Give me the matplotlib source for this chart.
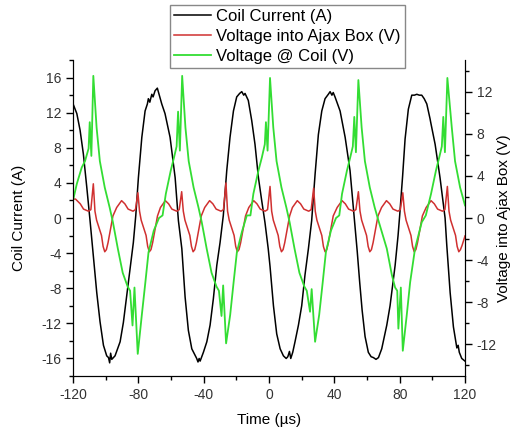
import matplotlib
matplotlib.use("Agg")
import matplotlib.pyplot as plt
from matplotlib.ticker import MultipleLocator

plt.rcParams['font.family'] = ['Liberation Sans', 'DejaVu Sans']
plt.rcParams['axes.unicode_minus'] = False

# Coil current (A), left axis
t_cur = [-120, -117.7, -115.7, -113.7, -111.6, -109.6, -107.5, -105.5, -103.5, -101.4,
         -99.4, -98.3, -97.6, -97.0, -96.3, -94.3, -91.2, -89.2, -86.1, -83.1,
         -81.6, -80.0, -77.9, -75.9, -74.5, -73.9, -73.0, -71.8, -71.0, -69.8,
         -68.4, -67.5, -65.7, -63.7, -60.6, -57.5, -55.5, -53.4, -51.4, -49.4,
         -47.3, -44.3, -43.5, -42.8, -42.2, -40.2, -38.1, -36.1, -34.1, -32.0,
         -30.0, -28.0, -25.9, -23.9, -21.8, -19.8, -18.0, -16.7, -15.5, -14.7,
         -12.7, -10.6, -8.6, -6.5, -4.5, -2.5, -0.5, 0.6, 2.7, 4.7,
         6.8, 8.8, 10.5, 11.5, 12.5, 13.3, 14.5, 15.9, 18.0, 20.0,
         22.0, 24.1, 26.1, 28.2, 30.2, 32.3, 34.3, 36.3, 37.4, 38.5,
         39.3, 40.4, 43.5, 46.6, 49.6, 51.0, 52.2, 54.0, 55.5, 57.0,
         58.8, 60.8, 62.5, 63.9, 65.5, 67.0, 69.0, 72.1, 74.1, 77.2,
         79.0, 80.0, 81.8, 83.3, 85.3, 87.4, 89.0, 90.5, 92.0, 93.5,
         95.0, 96.6, 98.6, 99.0, 101.7, 104.7, 107.8, 108.8, 110.9, 112.9,
         115.0, 115.8, 116.5, 118.0, 120.0]
current = [13.0, 11.9, 10.0, 7.3, 3.5, -0.3, -4.5, -8.5, -11.8, -14.5,
           -15.7, -15.9, -16.5, -15.4, -16.1, -15.7, -14.1, -11.9, -7.3, -2.8,
           0.3, 4.6, 9.2, 12.2, 13.0, 13.6, 13.2, 14.1, 13.8, 14.5,
           14.8, 14.2, 13.0, 11.9, 9.2, 4.6, -0.3, -3.5, -9.0, -12.8,
           -14.9, -16.0, -16.4, -16.0, -16.3, -15.3, -14.1, -12.2, -9.2, -5.4,
           -2.8, 0.3, 5.4, 9.2, 12.2, 13.8, 14.2, 14.4, 14.0, 14.2,
           13.4, 11.1, 8.4, 4.6, 2.0, -0.5, -3.5, -5.5, -10.0, -13.2,
           -14.9, -15.7, -16.0, -15.8, -15.2, -16.0, -15.3, -14.1, -12.2, -10.0,
           -6.5, -3.5, -0.3, 5.0, 9.5, 12.2, 13.6, 14.1, 14.4, 14.0,
           14.3, 13.8, 12.2, 9.2, 5.4, 2.5, 0.0, -3.8, -7.3, -10.5,
           -13.5, -15.3, -15.8, -15.9, -16.1, -15.9, -14.9, -12.2, -10.0, -5.4,
           -2.0, 0.3, 4.8, 9.0, 12.4, 14.0, 14.0, 14.1, 14.0, 14.0,
           13.6, 13.0, 11.3, 10.9, 8.4, 4.6, 0.0, -3.0, -8.5, -12.4,
           -14.8, -14.5, -15.3, -16.0, -16.3]

# Voltage into Ajax Box (V), right axis
t_ajax = [-120, -118.5, -115.6, -113.6, -110.6, -109.1, -107.6, -106.6, -105.6, -102.6, -101.6, -100.6, -99.6, -98.6, -95.6,
          -93.3, -90.3, -88.3, -86.3, -83.3, -81.8, -80.3, -79.3, -78.3, -75.3, -74.3, -73.3, -72.3, -71.3, -68.3,
          -66.5, -63.5, -61.5, -59.5, -56.5, -55.0, -53.5, -52.5, -51.5, -48.5, -47.5, -46.5, -45.5, -44.5, -41.5,
          -39.4, -36.4, -34.4, -32.4, -29.4, -27.9, -26.4, -25.4, -24.4, -21.4, -20.4, -19.4, -18.4, -17.4, -14.4,
          -12.4, -9.4, -7.4, -5.4, -2.4, -0.9, 0.6, 1.6, 2.6, 5.6, 6.6, 7.6, 8.6, 9.6, 12.6,
          14.3, 17.3, 19.3, 21.3, 24.3, 25.8, 27.3, 28.3, 29.3, 32.3, 33.3, 34.3, 35.3, 36.3, 39.3,
          41.7, 44.7, 46.7, 48.7, 51.7, 53.2, 54.7, 55.7, 56.7, 59.7, 60.7, 61.7, 62.7, 63.7, 66.7,
          68.9, 71.9, 73.9, 75.9, 78.9, 80.4, 81.9, 82.9, 83.9, 86.9, 87.9, 88.9, 89.9, 90.9, 93.9,
          96.2, 99.2, 101.2, 103.2, 106.2, 107.7, 109.2, 110.2, 111.2, 114.2, 115.2, 116.2, 117.2, 118.2, 120.0]
ajax = [1.8, 1.8, 1.35, 0.85, 0.65, 0.8, 3.25, 0.65, -0.2, -1.65, -2.7, -3.2, -3.0, -2.35, 0.2,
        1.0, 1.65, 1.35, 0.85, 0.65, 0.8, 2.4, 0.65, -0.2, -1.65, -2.7, -3.2, -3.0, -2.35, 0.2,
        1.0, 1.65, 1.35, 0.85, 0.65, 0.8, 2.5, 0.65, -0.2, -1.65, -2.7, -3.2, -3.0, -2.35, 0.2,
        1.0, 1.65, 1.35, 0.85, 0.65, 0.8, 3.33, 0.65, -0.2, -1.65, -2.7, -3.2, -3.0, -2.35, 0.2,
        1.0, 1.65, 1.35, 0.85, 0.65, 0.8, 3.0, 0.65, -0.2, -1.65, -2.7, -3.2, -3.0, -2.35, 0.2,
        1.0, 1.65, 1.35, 0.85, 0.65, 0.8, 2.83, 0.65, -0.2, -1.65, -2.7, -3.2, -3.0, -2.35, 0.2,
        1.0, 1.65, 1.35, 0.85, 0.65, 0.8, 2.5, 0.65, -0.2, -1.65, -2.7, -3.2, -3.0, -2.35, 0.2,
        1.0, 1.65, 1.35, 0.85, 0.65, 0.8, 2.4, 0.65, -0.2, -1.65, -2.7, -3.2, -3.0, -2.35, 0.2,
        1.0, 1.65, 1.35, 0.85, 0.65, 0.8, 3.0, 0.65, -0.2, -1.65, -2.7, -3.2, -3.0, -2.6, -1.7]

# Voltage @ Coil (V), right axis
t_coil = [-120, -117.7, -114.7, -112.7, -110.5, -109.8, -108.8, -107.6,
          -105.6, -103.6, -100.6, -97.6, -95.6, -92.6, -89.6, -86.6, -85.1, -83.6, -82.4, -80.4,
          -77.9, -75.8, -73.8, -70.6, -67.4, -65.2, -63.2, -60.2, -58.2, -56.6, -55.7, -54.6, -53.2,
          -51.2, -49.2, -46.2, -43.2, -41.2, -38.2, -35.2, -32.2, -30.7, -29.1, -28.1, -26.3,
          -23.8, -21.7, -19.7, -16.6, -13.6, -11.4, -9.6, -6.5, -4.4, -2.6, -1.9, -0.9, 0.6,
          2.6, 4.6, 7.6, 10.6, 12.6, 15.6, 18.6, 21.6, 23.1, 25.1, 26.1, 28.2,
          30.7, 32.8, 34.8, 37.9, 41.0, 43.0, 44.7, 47.7, 49.7, 51.3, 52.2, 53.2, 54.7,
          56.7, 58.7, 61.7, 64.7, 67.0, 72.1, 75.2, 77.2, 78.5, 79.2, 80.7, 81.9,
          84.3, 86.4, 89.4, 93.5, 96.0, 99.2, 102.2, 104.2, 105.8, 106.7, 107.7, 109.2,
          111.9, 113.9, 117.0, 120.0]
coil = [1.7, 3.25, 4.8, 5.4, 6.6, 9.1, 5.9, 13.5,
        8.6, 5.4, 2.9, 1.0, -0.4, -2.9, -5.2, -6.5, -6.9, -10.2, -6.6, -12.9,
        -9.2, -6.2, -3.25, -1.2, 0.0, 0.25, 2.3, 4.5, 5.75, 6.8, 10.1, 6.4, 13.5,
        8.6, 5.4, 2.9, 1.0, -0.4, -2.9, -5.2, -6.5, -6.9, -9.3, -6.4, -11.9,
        -9.2, -6.1, -3.25, -1.3, 0.25, 0.25, 2.3, 4.5, 5.75, 7.0, 9.1, 6.4, 13.3,
        8.6, 5.4, 2.9, 1.0, -0.4, -2.9, -5.2, -6.5, -6.9, -8.9, -6.75, -11.75,
        -9.2, -6.2, -3.25, -1.2, 0.0, 0.25, 2.3, 4.5, 5.75, 6.8, 9.6, 6.25, 13.1,
        8.6, 5.4, 2.9, 1.0, -0.25, -2.9, -5.4, -6.6, -6.9, -10.5, -6.6, -12.6,
        -9.25, -6.1, -2.9, -0.4, 0.25, 2.3, 4.5, 5.75, 6.8, 9.6, 6.25, 13.3,
        8.6, 5.4, 2.9, 1.2]

fig = plt.figure(figsize=(5.11, 4.29), dpi=100)
ax = fig.add_axes([0.143, 0.1235, 0.767, 0.7365])
ax2 = ax.twinx()

l1, = ax.plot(t_cur, current, color='black', lw=1.1, label='Coil Current (A)')
l2, = ax2.plot(t_ajax, ajax, color='#d03030', lw=1.1, label='Voltage into Ajax Box (V)')
l3, = ax2.plot(t_coil, coil, color='#33dd33', lw=1.3, label='Voltage @ Coil (V)')

ax.set_xlim(-120, 120)
ax.set_ylim(-18, 18)
ax2.set_ylim(-15, 15)

ax.xaxis.set_major_locator(MultipleLocator(40))
ax.xaxis.set_minor_locator(MultipleLocator(20))
ax.yaxis.set_major_locator(MultipleLocator(4))
ax.yaxis.set_minor_locator(MultipleLocator(2))
ax2.yaxis.set_major_locator(MultipleLocator(4))
ax2.yaxis.set_minor_locator(MultipleLocator(2))

for a in (ax, ax2):
    a.spines['top'].set_visible(False)
    a.tick_params(which='major', length=5, width=1, labelsize=10, labelcolor='#333333')
    a.tick_params(which='minor', length=3, width=1)

ax.set_xlabel('Time (µs)', fontsize=11, labelpad=8)
ax.set_ylabel('Coil Current (A)', fontsize=11, labelpad=11)
ax2.set_ylabel('Voltage into Ajax Box (V)', fontsize=11, labelpad=0)

leg = fig.legend(handles=[l1, l2, l3], loc='upper center', bbox_to_anchor=(0.5626, 0.988),
                 borderaxespad=0, fontsize=12, handlelength=2.2, handletextpad=0.3,
                 borderpad=0.25, labelspacing=0.28, fancybox=False, framealpha=1)
leg.get_frame().set_edgecolor('#888888')
leg.get_frame().set_linewidth(1.0)

plt.savefig('out.png', dpi=100)
